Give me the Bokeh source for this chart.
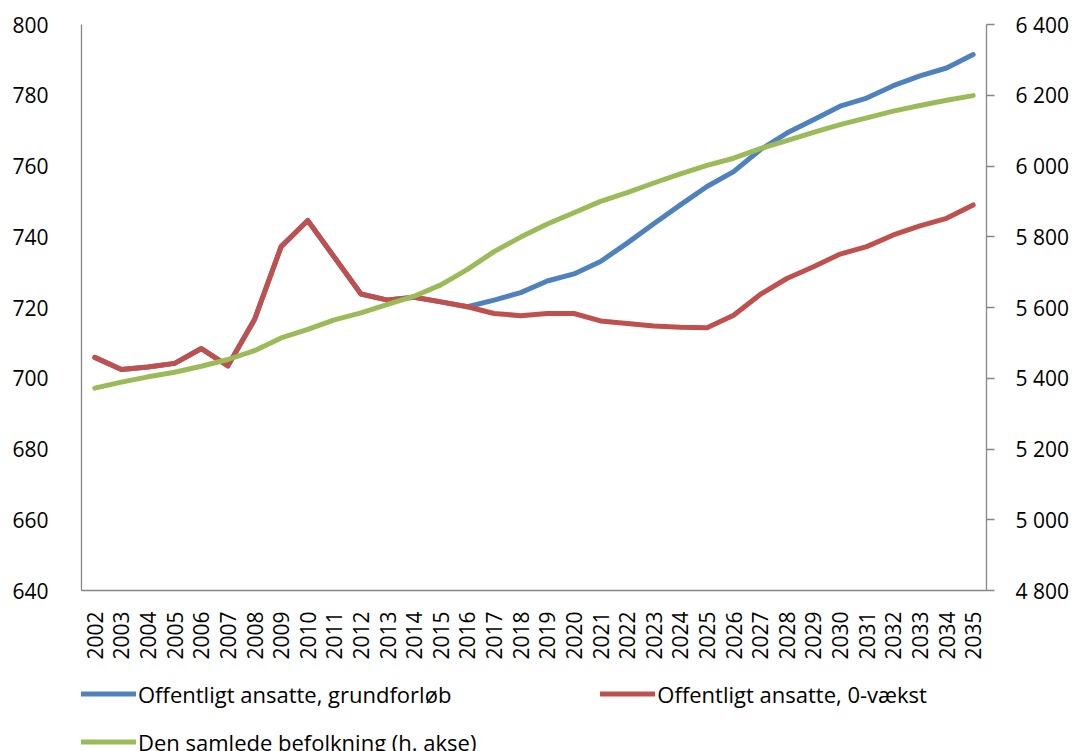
from bokeh.plotting import figure
from bokeh.layouts import column
from bokeh.models import (FactorRange, Range1d, LinearAxis, CategoricalAxis, FixedTicker,
                          Legend, LegendItem)
from bokeh.embed import file_html
from bokeh.resources import INLINE

years = [str(y) for y in range(2002, 2036)]

grundforloeb = [705.9, 702.5, 703.2, 704.2, 708.4, 703.5, 716.6, 737.2, 744.6, 734.2,
                723.8, 722.1, 722.9, 721.6, 720.2, 722.1, 724.2, 727.5, 729.5, 733.0,
                738.2, 743.7, 749.0, 754.2, 758.4, 764.6, 769.3, 773.1, 776.9, 779.2,
                782.7, 785.5, 787.7, 791.5]

nulvaekst = [705.9, 702.5, 703.2, 704.2, 708.4, 703.5, 716.6, 737.2, 744.6, 734.2,
             723.8, 722.1, 722.9, 721.6, 720.2, 718.3, 717.7, 718.3, 718.3, 716.2,
             715.5, 714.8, 714.4, 714.3, 717.8, 723.7, 728.2, 731.5, 735.1, 737.2,
             740.5, 743.1, 745.2, 749.0]

befolkning = [5372, 5389, 5404, 5417, 5434, 5453, 5478, 5514, 5538, 5565,
              5585, 5609, 5632, 5664, 5708, 5758, 5799, 5836, 5868, 5900,
              5925, 5952, 5978, 6002, 6022, 6049, 6072, 6095, 6117, 6136,
              6155, 6171, 6186, 6199]

left_ticks = [640, 660, 680, 700, 720, 740, 760, 780, 800]
right_ticks = [4800, 5000, 5200, 5400, 5600, 5800, 6000, 6200, 6400]
right_labels = ["4 800", "5 000", "5 200", "5 400", "5 600", "5 800", "6 000", "6 200", "6 400"]

labels = ["Offentligt ansatte, grundforløb", "Offentligt ansatte, 0-vækst",
          "Den samlede befolkning (h. akse)"]
colors = ["#4F81BD", "#C0504D", "#9BBB59"]

FONT = "Open Sans"
AX = "#868686"

p = figure(x_range=FactorRange(*years, range_padding=0), y_range=Range1d(640, 800),
           frame_width=905, frame_height=566, min_border_left=81, min_border_top=24,
           min_border_right=92, min_border_bottom=70,
           output_backend="svg", toolbar_location=None, x_axis_location=None,
           y_axis_location=None)
p.outline_line_color = None
p.xgrid.visible = False
p.ygrid.visible = False
p.extra_y_ranges = {"pop": Range1d(4800, 6400)}

xaxis = CategoricalAxis()
xaxis.major_label_orientation = 3.14159265 / 2
xaxis.major_tick_line_color = None
xaxis.minor_tick_line_color = None
xaxis.axis_line_color = AX
xaxis.axis_line_width = 1.3
xaxis.major_label_standoff = 15
xaxis.major_label_text_font = FONT
xaxis.major_label_text_font_size = "21px"
xaxis.major_label_text_color = "black"
p.add_layout(xaxis, "below")

yl = LinearAxis(ticker=FixedTicker(ticks=left_ticks))
yl.major_tick_line_color = None
yl.minor_tick_line_color = None
yl.axis_line_color = AX
yl.axis_line_width = 1.3
yl.major_label_standoff = 27
yl.major_label_text_font = FONT
yl.major_label_text_font_size = "21px"
yl.major_label_text_color = "black"
p.add_layout(yl, "left")

yr = LinearAxis(y_range_name="pop", ticker=FixedTicker(ticks=right_ticks))
yr.major_label_overrides = {t: l for t, l in zip(right_ticks, right_labels)}
yr.major_tick_line_color = AX
yr.major_tick_line_width = 1.3
yr.major_tick_out = 8
yr.major_tick_in = 0
yr.minor_tick_line_color = None
yr.axis_line_color = AX
yr.axis_line_width = 1.3
yr.major_label_standoff = 21
yr.major_label_text_font = FONT
yr.major_label_text_font_size = "21px"
yr.major_label_text_color = "black"
p.add_layout(yr, "right")

style = dict(line_width=5, line_cap="round", line_join="round")
p.line(years, grundforloeb, line_color=colors[0], **style)
p.line(years, nulvaekst, line_color=colors[1], **style)
p.line(years, befolkning, line_color=colors[2], y_range_name="pop", **style)

# legend strip below the chart (its lines lie outside its own visible range)
q = figure(width=1078, height=100, x_range=FactorRange(*years), y_range=Range1d(0, 1),
           min_border=0, output_backend="svg", toolbar_location=None,
           x_axis_location=None, y_axis_location=None)
q.outline_line_color = None
q.xgrid.visible = False
q.ygrid.visible = False
k = [q.line(years, grundforloeb, line_color=colors[0], **style),
     q.line(years, nulvaekst, line_color=colors[1], **style),
     q.line(years, befolkning, line_color=colors[2], **style)]

def make_legend(items, loc, spacing=0):
    return Legend(items=items, orientation="horizontal", location=loc, margin=0,
                  padding=0, spacing=spacing, glyph_width=55, glyph_height=27, label_height=27,
                  label_standoff=2, label_text_font=FONT, label_text_font_size="22px",
                  label_text_color="black", border_line_color=None, background_fill_alpha=0)

lg1 = make_legend([LegendItem(label=labels[0], renderers=[k[0]]),
                   LegendItem(label=labels[1], renderers=[k[1]])], (0, 100 - 19.5 - 27), spacing=149)
lg2 = make_legend([LegendItem(label=labels[2], renderers=[k[2]])], (0, 100 - 67.5 - 27))
q.add_layout(lg1, "center")
q.add_layout(lg2, "center")

layout = column(p, q, spacing=0)
open("out.html", "w").write(file_html(layout, INLINE))
